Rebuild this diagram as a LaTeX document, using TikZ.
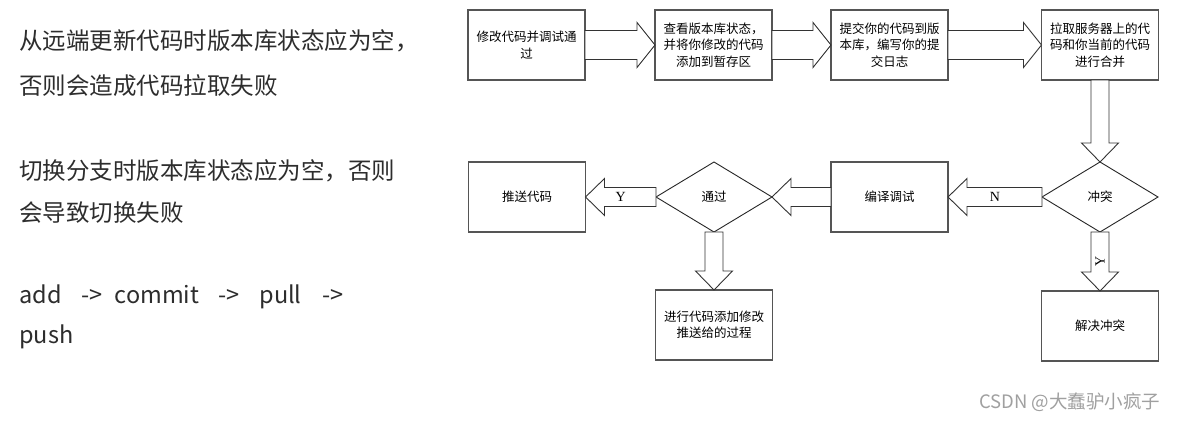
\documentclass[tikz,border=0pt]{standalone}
\usepackage{fontspec}
\setmainfont{Noto Sans CJK SC}
\newfontfamily\ynfont{Liberation Serif}
\usetikzlibrary{shapes.geometric,calc}
\definecolor{boxline}{RGB}{85, 85, 85}
\definecolor{inkgray}{RGB}{45, 45, 45}
\definecolor{markgray}{RGB}{160, 160, 160}
\newcommand{\fatarrow}[5]{%
  \coordinate (hb) at ($(#2)!#5!(#1)$);
  \draw[arrowline] ($(#1)!#3!90:(#2)$) -- ($(hb)!#3!-90:(#1)$) -- ($(hb)!#4!-90:(#1)$) -- (#2)
       -- ($(hb)!#4!90:(#1)$) -- ($(hb)!#3!90:(#1)$) -- ($(#1)!#3!-90:(#2)$) -- cycle;}

\begin{document}
\begin{tikzpicture}[x=1pt, y=-1pt,
    box/.style={draw=boxline, line width=1.3pt, fill=white, minimum width=117pt, minimum height=70pt,
                inner sep=0pt, outer sep=0pt, align=center, font=\fontsize{12.5pt}{16.5pt}\selectfont},
    choice/.style={draw=black!85, line width=0.9pt, fill=white, shape=diamond, minimum width=116pt,
                minimum height=70pt, inner sep=0pt, outer sep=0pt, font=\fontsize{12.5pt}{16.5pt}\selectfont},
    arrowline/.style={draw=black!80, fill=white, line width=0.9pt, line join=miter},
    lab/.style={inner sep=0pt, font=\ynfont\fontsize{14pt}{14pt}\selectfont},
    note/.style={anchor=base west, inner sep=0pt, text=inkgray, font=\fontsize{23.5pt}{28pt}\selectfont}]
  \useasboundingbox (0,0) rectangle (1185,420);
  \fill[white] (0,0) rectangle (1185,420);
  \node[note] (t1) at (19, 50)  {从远端更新代码时版本库状态应为空，};
  \node[note] (t2) at (19, 94)  {否则会造成代码拉取失败};
  \node[note] (t3) at (19, 179) {切换分支时版本库状态应为空，否则};
  \node[note] (t4) at (19, 221) {会导致切换失败};
  \node[note] (t5) at (19, 303) {add\hspace{20pt}->\hspace{12pt}commit\hspace{19pt}->\hspace{20pt}pull\hspace{21pt}->};
  \node[note] (t6) at (19, 343) {push};

  \node[box]    (b1) at ( 526.5, 45) {修改代码并调试通\\过};
  \node[box]    (b2) at ( 713.5, 45) {查看版本库状态，\\并将你修改的代码\\添加到暂存区};
  \node[box]    (b3) at ( 889.5, 45) {提交你的代码到版\\本库，编写你的提\\交日志};
  \node[box]    (b4) at (1100.0, 45) {拉取服务器上的代\\码和你当前的代码\\进行合并};
  \node[choice] (d1) at (1100.0,197) {冲突};
  \node[box]    (b6) at ( 889.5,197) {编译调试};
  \node[choice] (d2) at ( 714.0,197) {通过};
  \node[box]    (b8) at ( 527.0,197) {推送代码};
  \node[box]    (b9) at (1100.0,326) {解决冲突};
  \node[box]   (b10) at ( 714.0,325) {进行代码添加修改\\推送给的过程};

  \fatarrow{b1.east}{b2.west}{14.5pt}{22.5pt}{18pt}
  \fatarrow{b2.east}{b3.west}{14.5pt}{22.5pt}{18pt}
  \fatarrow{b3.east}{b4.west}{14.5pt}{22.5pt}{18pt}
  \fatarrow{b4.south}{d1.north}{9pt}{18.5pt}{19pt}
  \fatarrow{d1.west}{b6.east}{9.5pt}{18.5pt}{19pt}
  \fatarrow{d1.south}{b9.north}{9pt}{18.5pt}{19pt}
  \fatarrow{b6.west}{d2.east}{9.5pt}{18.5pt}{19pt}
  \fatarrow{d2.west}{b8.east}{9.5pt}{18.5pt}{19pt}
  \fatarrow{d2.south}{b10.north}{9pt}{18.5pt}{19pt}

  \node[lab]           (ln) at ($(d1.west)!0.5!(b6.east)$)   {N};
  \node[lab, rotate=90] (ly) at ($(d1.south)!0.5!(b9.north)$) {Y};
  \node[lab]           (lp) at ($(d2.west)!0.5!(b8.east)$)   {Y};

  \node[anchor=west, inner sep=0pt, text=markgray, font=\fontsize{18.5pt}{20pt}\selectfont] (mark) at (979,402) {CSDN @大蠢驴小疯子};
\end{tikzpicture}
\end{document}
